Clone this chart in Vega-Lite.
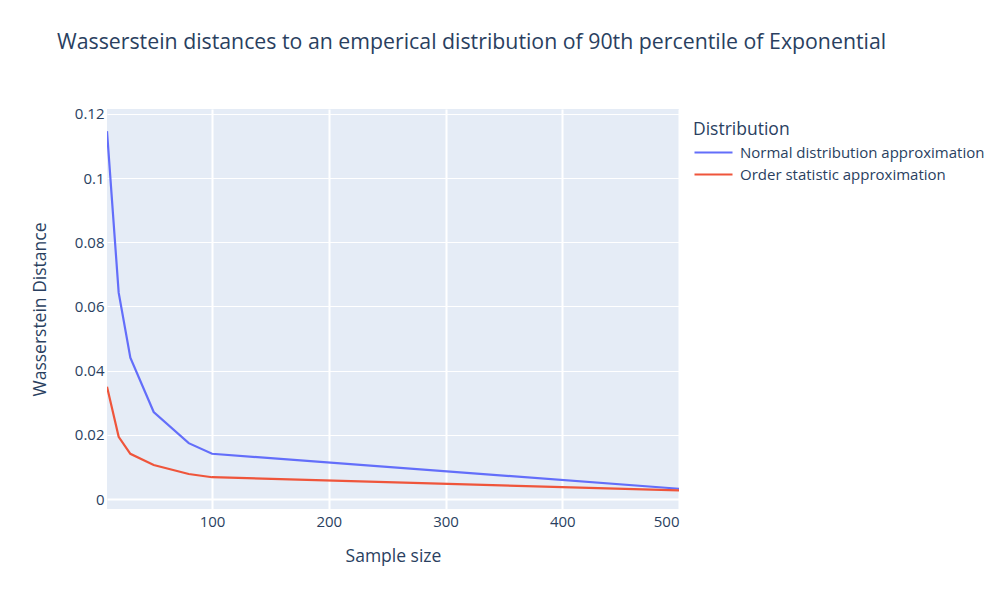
{
  "$schema": "https://vega.github.io/schema/vega-lite/v6.json",
  "width": 572,
  "height": 400,
  "autosize": {"type": "none"},
  "padding": {"left": 107, "top": 109, "right": 328, "bottom": 83},
  "background": "white",
  "config": {
    "font": "Open Sans",
    "view": {"fill": "#E5ECF6", "stroke": null},
    "axis": {"domain": false, "ticks": false, "gridColor": "white", "gridWidth": 1, "labelColor": "#2a3f5f", "labelFontSize": 15, "titleColor": "#2a3f5f", "titleFontSize": 17.5, "titleFontWeight": "normal", "labelFont": "Open Sans", "titleFont": "Open Sans"},
    "legend": {"labelColor": "#2a3f5f", "titleColor": "#2a3f5f", "labelFontSize": 15, "titleFontSize": 17.5, "titleFontWeight": "normal", "labelFont": "Open Sans", "titleFont": "Open Sans"}
  },
  "title": {
    "text": "Wasserstein distances to an emperical distribution of 90th percentile of Exponential",
    "anchor": "start",
    "frame": "group",
    "dx": -50,
    "offset": 54,
    "fontSize": 21.3,
    "fontWeight": "normal",
    "color": "#2a3f5f",
    "font": "Open Sans"
  },
  "data": {
    "values": [
      {"n": 10, "d": 0.1146, "s": "Normal distribution approximation"},
      {"n": 20, "d": 0.0643, "s": "Normal distribution approximation"},
      {"n": 30, "d": 0.0440, "s": "Normal distribution approximation"},
      {"n": 50, "d": 0.0271, "s": "Normal distribution approximation"},
      {"n": 80, "d": 0.0174, "s": "Normal distribution approximation"},
      {"n": 100, "d": 0.0141, "s": "Normal distribution approximation"},
      {"n": 500, "d": 0.0032, "s": "Normal distribution approximation"},
      {"n": 10, "d": 0.0350, "s": "Order statistic approximation"},
      {"n": 20, "d": 0.0194, "s": "Order statistic approximation"},
      {"n": 30, "d": 0.0141, "s": "Order statistic approximation"},
      {"n": 50, "d": 0.0106, "s": "Order statistic approximation"},
      {"n": 80, "d": 0.0078, "s": "Order statistic approximation"},
      {"n": 100, "d": 0.0068, "s": "Order statistic approximation"},
      {"n": 500, "d": 0.0027, "s": "Order statistic approximation"}
    ]
  },
  "mark": {"type": "line", "strokeWidth": 2.2, "clip": true},
  "encoding": {
    "x": {
      "field": "n", "type": "quantitative",
      "scale": {"domain": [10, 500], "nice": false, "zero": false},
      "axis": {"values": [100, 200, 300, 400, 500], "title": "Sample size", "titlePadding": 18, "labelPadding": 5, "gridWidth": 2}
    },
    "y": {
      "field": "d", "type": "quantitative",
      "scale": {"domain": [-0.0031, 0.1215], "nice": false, "zero": false},
      "axis": {"values": [0, 0.02, 0.04, 0.06, 0.08, 0.1, 0.12], "format": "~g", "title": "Wasserstein Distance", "titlePadding": 25, "labelPadding": 3, "gridWidth": {"condition": {"test": "datum.value === 0", "value": 2}, "value": 1}}
    },
    "color": {
      "field": "s", "type": "nominal",
      "scale": {"domain": ["Normal distribution approximation", "Order statistic approximation"], "range": ["#636efa", "#EF553B"]},
      "legend": {"title": "Distribution", "orient": "none", "legendX": 586, "legendY": 12, "symbolType": "M-1,0L3,0", "symbolSize": 361, "symbolStrokeWidth": 2.2, "symbolFillColor": "transparent", "rowPadding": 3, "titlePadding": 3, "labelLimit": 400, "labelOffset": 25}
    }
  }
}
